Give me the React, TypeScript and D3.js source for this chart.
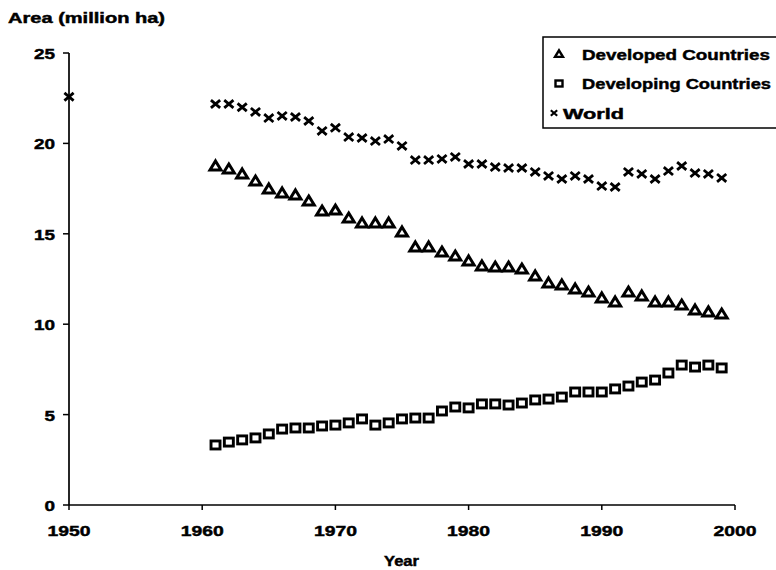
import React from "react";
import * as d3 from "d3";

const years = [1961,1962,1963,1964,1965,1966,1967,1968,1969,1970,1971,1972,1973,1974,1975,1976,1977,1978,1979,1980,1981,1982,1983,1984,1985,1986,1987,1988,1989,1990,1991,1992,1993,1994,1995,1996,1997,1998,1999];
const developed = [18.75,18.58,18.31,17.92,17.48,17.26,17.15,16.81,16.26,16.31,15.87,15.6,15.6,15.6,15.1,14.27,14.27,13.99,13.77,13.5,13.22,13.16,13.16,13.05,12.67,12.28,12.17,11.95,11.78,11.45,11.23,11.78,11.56,11.23,11.23,11.06,10.79,10.68,10.56];
const developing = [3.32,3.48,3.6,3.71,3.93,4.2,4.26,4.26,4.37,4.42,4.54,4.76,4.42,4.54,4.76,4.81,4.81,5.2,5.42,5.37,5.59,5.59,5.53,5.64,5.81,5.86,5.97,6.25,6.25,6.25,6.42,6.58,6.8,6.91,7.3,7.74,7.63,7.74,7.58];
const world = [22.18,22.18,22.0,21.74,21.4,21.52,21.46,21.24,20.69,20.86,20.35,20.3,20.13,20.24,19.86,19.08,19.08,19.14,19.25,18.86,18.86,18.69,18.64,18.64,18.42,18.2,18.03,18.2,18.03,17.64,17.59,18.42,18.31,18.03,18.47,18.75,18.36,18.31,18.09];
const worldEarlyYears = [1950];
const worldEarly = [22.58];
const xTicks = [1950,1960,1970,1980,1990,2000];
const yTicks = [0,5,10,15,20,25];
const legendLabels = ["Developed Countries","Developing Countries","World"];
const yTitle = "Area (million ha)";
const xTitle = "Year";

const FONT = "'Liberation Sans', Arial, sans-serif";

const tri = (s: number) => `M0,${-s} L${s * 1.1},${s * 0.8} L${-s * 1.1},${s * 0.8} Z`;
const cross = (s: number) => `M${-s},${-s * 0.85} L${s},${s * 0.85} M${-s},${s * 0.85} L${s},${-s * 0.85}`;

const txt = { fontWeight: "bold" as const, stroke: "#000", strokeWidth: 0.45, fill: "#000" };

export default function App() {
  const x = d3.scaleLinear().domain([1950, 2000]).range([69, 735]);
  const y = d3.scaleLinear().domain([0, 25]).range([505, 53]);

  const worldPts = [
    ...worldEarlyYears.map((yr, i) => [yr, worldEarly[i]]),
    ...years.map((yr, i) => [yr, world[i]]),
  ];

  const legY = [54, 83.5, 113];

  return (
    <svg width={776} height={570} style={{ position: "fixed", left: 0, top: 0, background: "#fff" }} fontFamily={FONT}>
      <rect width={776} height={570} fill="#fff" />
      {/* axes */}
      <line x1={x(1950)} x2={x(1950)} y1={y(25)} y2={y(0)} stroke="#000" strokeWidth={1.7} />
      <line x1={x(1950)} x2={x(2000)} y1={y(0)} y2={y(0)} stroke="#000" strokeWidth={1.7} />
      {yTicks.map((t) => (
        <g key={"yt" + t}>
          <line x1={x(1950) - 6} x2={x(1950)} y1={y(t)} y2={y(t)} stroke="#000" strokeWidth={1.5} />
          <text x={55} y={y(t) + 6} textAnchor="end" fontSize={15} {...txt}
            textLength={String(t).length * 10.5} lengthAdjust="spacingAndGlyphs">{t}</text>
        </g>
      ))}
      {xTicks.map((t) => (
        <g key={"xt" + t}>
          <line x1={x(t)} x2={x(t)} y1={y(0)} y2={y(0) + 5} stroke="#000" strokeWidth={1.5} />
          <text x={x(t) - 21.5} y={536} fontSize={15} {...txt}
            textLength={43} lengthAdjust="spacingAndGlyphs">{t}</text>
        </g>
      ))}
      <text x={8} y={23} fontSize={14} {...txt} textLength={157} lengthAdjust="spacingAndGlyphs">{yTitle}</text>
      <text x={384} y={566} fontSize={14} {...txt} textLength={35} lengthAdjust="spacingAndGlyphs">{xTitle}</text>

      {/* series */}
      {years.map((yr, i) => (
        <path key={"d" + yr} d={tri(5)} transform={`translate(${x(yr)},${y(developed[i])})`}
          fill="#fff" stroke="#000" strokeWidth={3} strokeLinejoin="miter" />
      ))}
      {years.map((yr, i) => (
        <rect key={"g" + yr} x={x(yr) - 4.5} y={y(developing[i]) - 4} width={9} height={8}
          fill="#fff" stroke="#000" strokeWidth={2.9} />
      ))}
      {worldPts.map(([yr, v]) => (
        <path key={"w" + yr} d={cross(4.6)} transform={`translate(${x(yr)},${y(v)})`}
          fill="none" stroke="#000" strokeWidth={2.8} />
      ))}

      {/* legend */}
      <rect x={543} y={37} width={240} height={91} fill="#fff" stroke="#000" strokeWidth={1.5} />
      <path d={tri(3.6)} transform={`translate(559,${legY[0]})`} fill="#fff" stroke="#000" strokeWidth={2.4} />
      <text x={582} y={legY[0] + 5.5} fontSize={15} {...txt} textLength={188} lengthAdjust="spacingAndGlyphs">{legendLabels[0]}</text>
      <rect x={555.5} y={legY[1] - 3} width={7} height={6} fill="#fff" stroke="#000" strokeWidth={2.4} />
      <text x={582} y={legY[1] + 5.5} fontSize={15} {...txt} textLength={189} lengthAdjust="spacingAndGlyphs">{legendLabels[1]}</text>
      <path d={cross(3.2)} transform={`translate(554,${legY[2]})`} fill="none" stroke="#000" strokeWidth={2.2} />
      <text x={563} y={legY[2] + 5.5} fontSize={15} {...txt} textLength={61} lengthAdjust="spacingAndGlyphs">{legendLabels[2]}</text>
    </svg>
  );
}
